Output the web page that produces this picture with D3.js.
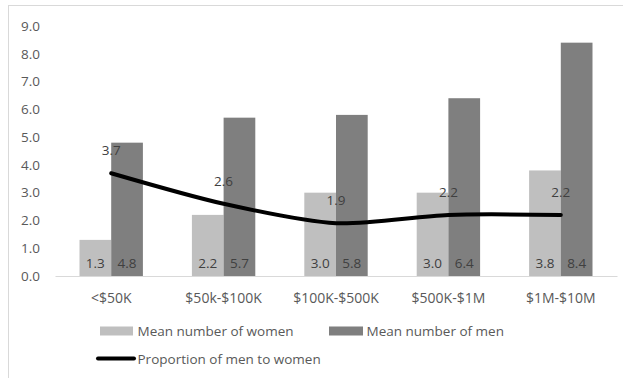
<!DOCTYPE html>
<html>
<head>
<meta charset="utf-8">
<script src="https://cdn.jsdelivr.net/npm/d3@7"></script>
<style>
  html, body { margin: 0; padding: 0; background: #fff; }
  svg { display: block; font-family: "Open Sans", "Noto Sans", sans-serif; }
</style>
</head>
<body>
<svg id="chart" width="623" height="378"></svg>
<script>
// Income bands and the household composition in each
const categories = ["<$50K", "$50k-$100K", "$100K-$500K", "$500K-$1M", "$1M-$10M"];
const women = [1.3, 2.2, 3.0, 3.0, 3.8];
const men = [4.8, 5.7, 5.8, 6.4, 8.4];
const ratio = [3.7, 2.6, 1.9, 2.2, 2.2];
const yTicks = [0, 1, 2, 3, 4, 5, 6, 7, 8, 9];
const seriesNames = ["Mean number of women", "Mean number of men", "Proportion of men to women"];

const svg = d3.select("#chart");
const textColor = "#595959";
const labelColor = "#404040";
const womenColor = "#bfbfbf";
const menColor = "#7f7f7f";
const numSize = 13.5;

// outer frame
svg.append("rect")
  .attr("x", 8.5).attr("y", 5.5)
  .attr("width", 700).attr("height", 500)
  .attr("fill", "none").attr("stroke", "#d9d9d9").attr("stroke-width", 1);

const plot = { left: 55, right: 617, top: 26, bottom: 276 };

const x = d3.scaleBand().domain(categories).range([plot.left, plot.right]).padding(0);
const y = d3.scaleLinear().domain([0, 9]).range([plot.bottom, plot.top]);

const groupW = x.bandwidth();
const barW = groupW * 0.282;
const sub = d3.scaleBand().domain(["women", "men"])
  .range([0, barW * 2]);

// y axis labels
const yAxis = d3.axisLeft(y).tickValues(yTicks).tickFormat(d3.format(".1f")).tickSize(0).tickPadding(0);
const yg = svg.append("g").attr("transform", `translate(40,0)`).call(yAxis);
yg.select(".domain").remove();
yg.selectAll("text").attr("fill", textColor).attr("font-size", numSize)
  .attr("font-family", "Open Sans, sans-serif");

// bars
const rows = categories.map((c, i) => ({ c, women: women[i], men: men[i], ratio: ratio[i] }));
const groups = svg.append("g").selectAll("g").data(rows).join("g")
  .attr("transform", d => `translate(${x(d.c) + groupW / 2 - barW},0)`);

groups.append("rect")
  .attr("x", sub("women")).attr("width", barW)
  .attr("y", d => y(d.women)).attr("height", d => y(0) - y(d.women))
  .attr("fill", womenColor);
groups.append("rect")
  .attr("x", sub("men")).attr("width", barW)
  .attr("y", d => y(d.men)).attr("height", d => y(0) - y(d.men))
  .attr("fill", menColor);

// value labels at the base of each bar
groups.append("text")
  .attr("x", sub("women") + barW / 2).attr("y", y(0) - 13)
  .attr("text-anchor", "middle").attr("dominant-baseline", "central")
  .attr("font-size", numSize).attr("fill", labelColor)
  .text(d => d3.format(".1f")(d.women));
groups.append("text")
  .attr("x", sub("men") + barW / 2).attr("y", y(0) - 13)
  .attr("text-anchor", "middle").attr("dominant-baseline", "central")
  .attr("font-size", numSize).attr("fill", labelColor)
  .text(d => d3.format(".1f")(d.men));

// x axis
const xAxis = d3.axisBottom(x).tickSize(0).tickPadding(0);
const xg = svg.append("g").attr("transform", `translate(0,${plot.bottom})`).call(xAxis);
xg.select(".domain").attr("stroke", "#d9d9d9").attr("stroke-width", 1.2);
xg.selectAll("text").attr("fill", textColor).attr("font-size", 14)
  .attr("font-family", "Open Sans, sans-serif")
  .attr("dy", null).attr("y", 21).attr("dominant-baseline", "central");

// ratio line (smoothed)
const cx = d => x(d.c) + groupW / 2;
const line = d3.line().x(cx).y(d => y(d.ratio)).curve(d3.curveCardinal.tension(0.2));
svg.append("path").datum(rows)
  .attr("d", line).attr("fill", "none")
  .attr("stroke", "#000").attr("stroke-width", 4).attr("stroke-linecap", "round");

svg.append("g").selectAll("text").data(rows).join("text")
  .attr("x", cx).attr("y", d => y(d.ratio) - 23)
  .attr("text-anchor", "middle").attr("dominant-baseline", "central")
  .attr("font-size", numSize).attr("fill", labelColor)
  .text(d => d3.format(".1f")(d.ratio));

// legend
const legend = svg.append("g").attr("font-size", 13.5).attr("fill", textColor);
legend.append("rect").attr("x", 100).attr("y", 326.5).attr("width", 33).attr("height", 9).attr("fill", womenColor);
legend.append("text").attr("x", 137.5).attr("y", 331).attr("dominant-baseline", "central").text(seriesNames[0]);
legend.append("rect").attr("x", 329).attr("y", 326.5).attr("width", 34).attr("height", 9).attr("fill", menColor);
legend.append("text").attr("x", 366.5).attr("y", 331).attr("dominant-baseline", "central").text(seriesNames[1]);
legend.append("line").attr("x1", 98).attr("x2", 134).attr("y1", 358.5).attr("y2", 358.5)
  .attr("stroke", "#000").attr("stroke-width", 4).attr("stroke-linecap", "round");
legend.append("text").attr("x", 137.5).attr("y", 359).attr("dominant-baseline", "central").text(seriesNames[2]);
</script>
</body>
</html>
